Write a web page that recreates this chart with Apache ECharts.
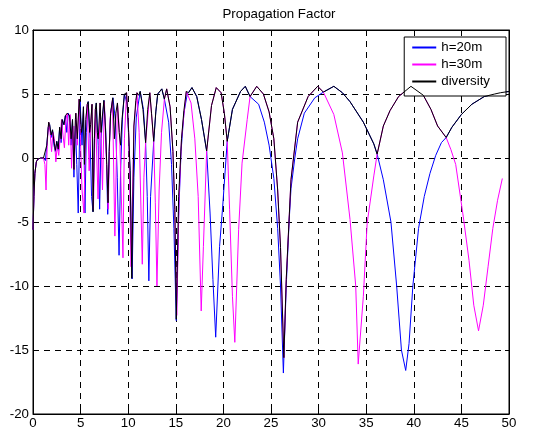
<!DOCTYPE html>
<html>
<head>
<meta charset="utf-8">
<script src="https://cdn.jsdelivr.net/npm/echarts@6/dist/echarts.min.js"></script>
<style>
html,body{margin:0;padding:0;background:#fff;}
#chart{width:534px;height:437px;}
</style>
</head>
<body>
<div id="chart"></div>
<script>
const chartTitle = 'Propagation Factor';
const seriesNames = ['h=20m', 'h=30m', 'diversity'];
const xTicks = [0, 5, 10, 15, 20, 25, 30, 35, 40, 45, 50];
const yTicks = [-20, -15, -10, -5, 0, 5, 10];

const h20 = [
[0,-5.6],[0.1,-3.0],[0.2,-1.2],[0.35,-0.3],[0.5,-0.1],[0.8,0],[1.1,0],[1.3,-0.2],[1.45,1.0],[1.6,2.4],[1.75,2.6],[1.9,1.6],[2.05,2.2],[2.2,1.0],[2.35,0.5],[2.5,1.3],[2.65,0.6],[2.8,2.4],[2.95,1.2],[3.1,3.0],[3.25,2.6],[3.4,3.3],[3.55,2.0],[3.7,3.5],[3.85,3.2],[4.0,1.0],[4.15,3.0],[4.3,-1.5],[4.45,2.5],[4.6,-0.5],[4.75,-4.3],[4.95,4.4],[5.15,1.0],[5.3,4.0],[5.46,-4.3],[5.6,2.0],[5.8,4.4],[6.0,1.5],[6.15,-3.0],[6.3,-4.2],[6.45,1.5],[6.65,4.3],[6.85,1.0],[7.0,-4.0],[7.15,1.5],[7.45,4.5],[7.65,2.0],[7.85,-4.4],[8.0,0.5],[8.15,3.5],[8.4,4.7],[8.65,3.0],[8.85,-1.5],[9.04,-7.6],[9.2,-1.0],[9.4,3.2],[9.6,5.0],[9.9,4.2],[10.2,-1.0],[10.41,-9.45],[10.6,-1.5],[10.85,3.2],[11.26,5.2],[11.6,3.8],[11.83,1.2],[12.0,-3.0],[12.17,-9.6],[12.35,-3.0],[12.68,1.3],[12.9,3.6],[13.1,5.0],[13.53,5.4],[13.8,4.6],[14.25,2.8],[14.55,-0.5],[14.8,-5.5],[15.05,-12.7],[15.3,-4.5],[15.55,0.5],[15.85,3.5],[16.2,5.0],[16.7,5.5],[17.2,4.8],[17.7,3.0],[18.24,0.55],[18.6,-4.3],[18.9,-9.5],[19.19,-14.0],[19.6,-6.9],[19.93,-3.75],[20.4,1.3],[20.95,3.8],[21.8,5.2],[22.3,5.6],[22.8,4.8],[23.7,4.2],[24.3,2.8],[24.8,1.0],[25.3,-1.6],[25.7,-5.5],[26.0,-10],[26.3,-16.8],[26.6,-10],[26.9,-5],[27.1,-2.4],[27.5,0],[27.8,1.5],[28.5,3.5],[29.6,4.7],[30.5,5.15],[31.6,5.6],[32.5,5.1],[33.3,4.4],[34.7,2.8],[35.8,1.1],[36.15,0.3],[36.8,-1.7],[37.6,-5],[38.2,-10],[38.7,-15],[39.15,-16.6],[39.5,-14.5],[39.9,-10],[40.5,-5.5],[41.1,-3.0],[41.7,-1.2],[42.3,0.2],[42.9,1.2],[43.4,1.6],[44.0,2.4],[45.0,3.4],[46.1,4.2],[47.4,4.8],[48.5,5.0],[49.1,5.1],[50,5.2]
];

const h30 = [
[0,-5.6],[0.1,-3.0],[0.2,-1.2],[0.35,-0.3],[0.5,-0.1],[0.8,0],[1.1,0],[1.25,-0.5],[1.37,-2.5],[1.5,1.2],[1.65,2.8],[1.8,2.0],[1.95,0.5],[2.1,2.0],[2.25,1.5],[2.4,-0.3],[2.55,1.0],[2.7,0.2],[2.85,1.5],[3.0,3.0],[3.15,1.8],[3.3,0.8],[3.45,3.0],[3.6,3.5],[3.75,1.0],[3.9,3.4],[4.05,-0.8],[4.2,2.5],[4.3,-0.9],[4.5,3.5],[4.65,1.0],[4.85,4.6],[5.0,1.0],[5.15,-2.5],[5.35,-4.3],[5.55,3.0],[5.7,4.2],[5.9,-1.0],[6.05,2.5],[6.2,4.2],[6.35,-4.0],[6.55,3.8],[6.83,-3.2],[7.05,4.3],[7.3,-2.5],[7.5,4.4],[7.9,-4.0],[8.1,3.0],[8.35,4.6],[8.6,-6.1],[8.87,4.3],[9.1,2.0],[9.45,-7.8],[9.6,1.5],[9.83,5.1],[10.05,2.0],[10.3,-8.5],[10.6,2.5],[10.92,5.1],[11.15,2.0],[11.48,-8.3],[11.65,-1.5],[11.83,1.2],[12.27,5.1],[12.68,1.3],[12.85,-3.5],[13.02,-10.0],[13.25,-2.5],[13.5,2.0],[13.8,4.6],[14.04,5.4],[14.4,4.0],[14.7,0.5],[14.9,-4.0],[15.1,-12.3],[15.35,-3.0],[15.6,1.5],[16.1,5.2],[16.6,4.3],[17.0,1.5],[17.35,-3.0],[17.67,-11.95],[17.9,-6.9],[18.24,0.55],[18.75,4.1],[19.25,5.5],[19.76,5.1],[20.1,3.5],[20.4,1.3],[20.65,-4.0],[20.95,-10.8],[21.2,-14.4],[21.6,-5.6],[21.96,-0.4],[22.5,3.0],[22.8,4.8],[23.5,5.6],[24.2,5.0],[24.8,3.6],[25.3,1.5],[25.7,-2.5],[26.0,-7],[26.35,-15.6],[26.6,-9.5],[27.1,-1.7],[27.8,2.8],[28.9,4.8],[29.9,5.6],[30.5,5.15],[31.6,3.4],[32.5,0.4],[33.3,-4.8],[33.9,-10],[34.16,-16.1],[34.7,-10.8],[35.1,-5.1],[35.8,-1.4],[36.15,0.3],[36.8,2.5],[37.5,3.7],[38.4,4.8],[39.7,5.6],[41.0,4.9],[41.8,3.8],[42.5,2.5],[43.4,1.6],[43.9,0.65],[44.4,-0.5],[45.2,-4.6],[45.8,-8.0],[46.3,-11.5],[46.8,-13.5],[47.3,-11.5],[47.8,-8.5],[48.3,-5.5],[48.8,-3.3],[49.3,-1.6]
];

const diversity = [
[0,-5.6],[0.1,-3.0],[0.2,-1.2],[0.35,-0.3],[0.5,-0.1],[0.8,0],[1.1,0],[1.3,-0.1],[1.45,1.0],[1.6,2.4],[1.65,2.8],[1.75,2.6],[1.9,1.8],[2.05,2.2],[2.2,1.3],[2.35,0.6],[2.5,1.3],[2.65,0.7],[2.8,2.4],[2.95,1.5],[3.05,3.0],[3.25,2.6],[3.4,3.3],[3.6,3.5],[3.7,3.5],[3.85,3.3],[4.0,1.5],[4.15,3.0],[4.3,-0.9],[4.45,3.0],[4.5,3.5],[4.65,1.5],[4.85,4.6],[4.95,4.5],[5.1,2.0],[5.2,2.5],[5.3,4.0],[5.4,-0.5],[5.55,3.0],[5.7,4.2],[5.8,4.4],[5.95,2.0],[6.05,2.6],[6.2,4.2],[6.31,-4.2],[6.45,1.5],[6.55,3.8],[6.65,4.3],[6.75,2.0],[6.85,1.5],[7.05,4.3],[7.15,2.0],[7.25,3.0],[7.45,4.5],[7.6,2.5],[7.75,-0.5],[7.88,-3.5],[8.0,0.5],[8.15,3.5],[8.38,4.7],[8.55,1.5],[8.7,3.5],[8.87,4.3],[9.05,2.0],[9.2,1.0],[9.35,3.0],[9.6,5.0],[9.7,4.9],[9.83,5.1],[10.05,2.0],[10.2,-1.0],[10.38,-9.4],[10.6,2.5],[10.8,4.5],[10.92,5.1],[11.1,4.9],[11.26,5.2],[11.55,3.8],[11.83,1.2],[12.05,3.8],[12.27,5.1],[12.45,3.5],[12.68,1.3],[12.9,3.6],[13.1,5.0],[13.53,5.4],[13.8,4.6],[14.04,5.4],[14.4,4.0],[14.7,0.5],[14.9,-4.0],[15.05,-12.6],[15.3,-3.0],[15.6,1.5],[15.85,3.7],[16.1,5.2],[16.35,5.1],[16.7,5.5],[17.2,4.8],[17.7,3.0],[18.24,0.55],[18.75,4.1],[19.25,5.5],[19.76,5.1],[20.1,3.5],[20.4,1.3],[20.95,3.8],[21.8,5.2],[22.3,5.6],[22.8,4.8],[23.5,5.6],[24.2,5.0],[24.8,3.6],[25.3,1.5],[25.7,-2.5],[26.0,-7],[26.35,-15.6],[26.6,-9.5],[27.1,-1.7],[27.8,2.8],[28.9,4.8],[29.9,5.6],[30.5,5.15],[31.6,5.6],[32.5,5.1],[33.3,4.4],[34.7,2.8],[35.8,1.1],[36.15,0.3],[36.8,2.5],[37.5,3.7],[38.4,4.8],[39.7,5.6],[41.0,4.9],[41.8,3.8],[42.5,2.5],[43.4,1.6],[44.0,2.4],[45.0,3.4],[46.1,4.2],[47.4,4.8],[48.5,5.0],[49.1,5.1],[50,5.2]
];

const FONT = 'Liberation Sans';
const FS = 13.3;
const chart = echarts.init(document.getElementById('chart'), null, {renderer: 'canvas'});
const gridLine = {show: true, lineStyle: {color: '#000', width: 1, type: [6, 5]}};
const option = {
  animation: false,
  backgroundColor: '#fff',
  title: {
    text: chartTitle, left: 274, top: 3, textAlign: 'center',
    textStyle: {fontFamily: FONT, fontSize: FS, fontWeight: 'normal', color: '#000'}
  },
  legend: {
    orient: 'vertical', right: 28, top: 37,
    data: seriesNames.map(function (n) { return {name: n, icon: 'rect'}; }),
    backgroundColor: '#fff', borderColor: '#000', borderWidth: 1,
    padding: [3, 16, 7, 8], itemGap: 2, itemWidth: 24, itemHeight: 2,
    textStyle: {fontFamily: FONT, fontSize: FS, color: '#000', lineHeight: 15}
  },
  grid: {left: 33, right: 25, top: 30, bottom: 23, show: true, borderColor: '#000', borderWidth: 1, backgroundColor: '#fff'},
  xAxis: [{
    type: 'value', min: xTicks[0], max: xTicks[xTicks.length - 1], interval: 5,
    axisLine: {show: true, onZero: false, lineStyle: {color: '#000'}},
    axisTick: {show: true, inside: true, length: 4, lineStyle: {color: '#000'}},
    axisLabel: {fontFamily: FONT, fontSize: FS, color: '#000', margin: 3},
    splitLine: gridLine
  }, {
    type: 'value', position: 'top', min: xTicks[0], max: xTicks[xTicks.length - 1], interval: 5,
    axisLine: {show: true, onZero: false, lineStyle: {color: '#000'}},
    axisTick: {show: true, inside: true, length: 4, lineStyle: {color: '#000'}},
    axisLabel: {show: false}, splitLine: {show: false}
  }],
  yAxis: [{
    type: 'value', min: yTicks[0], max: yTicks[yTicks.length - 1], interval: 5,
    axisLine: {show: true, onZero: false, lineStyle: {color: '#000'}},
    axisTick: {show: true, inside: true, length: 4, lineStyle: {color: '#000'}},
    axisLabel: {fontFamily: FONT, fontSize: FS, color: '#000', margin: 4},
    splitLine: gridLine
  }, {
    type: 'value', position: 'right', min: yTicks[0], max: yTicks[yTicks.length - 1], interval: 5,
    axisLine: {show: true, onZero: false, lineStyle: {color: '#000'}},
    axisTick: {show: true, inside: true, length: 4, lineStyle: {color: '#000'}},
    axisLabel: {show: false}, splitLine: {show: false}
  }],
  series: [
    {name: seriesNames[0], type: 'line', data: h20, symbol: 'none', lineStyle: {color: '#0000ff', width: 1}, itemStyle: {color: '#0000ff'}, z: 2},
    {name: seriesNames[1], type: 'line', data: h30, symbol: 'none', lineStyle: {color: '#ff00ff', width: 1}, itemStyle: {color: '#ff00ff'}, z: 3},
    {name: seriesNames[2], type: 'line', data: diversity, symbol: 'none', lineStyle: {color: '#000000', width: 1}, itemStyle: {color: '#000000'}, z: 4}
  ]
};
chart.setOption(option);
</script>
</body>
</html>
